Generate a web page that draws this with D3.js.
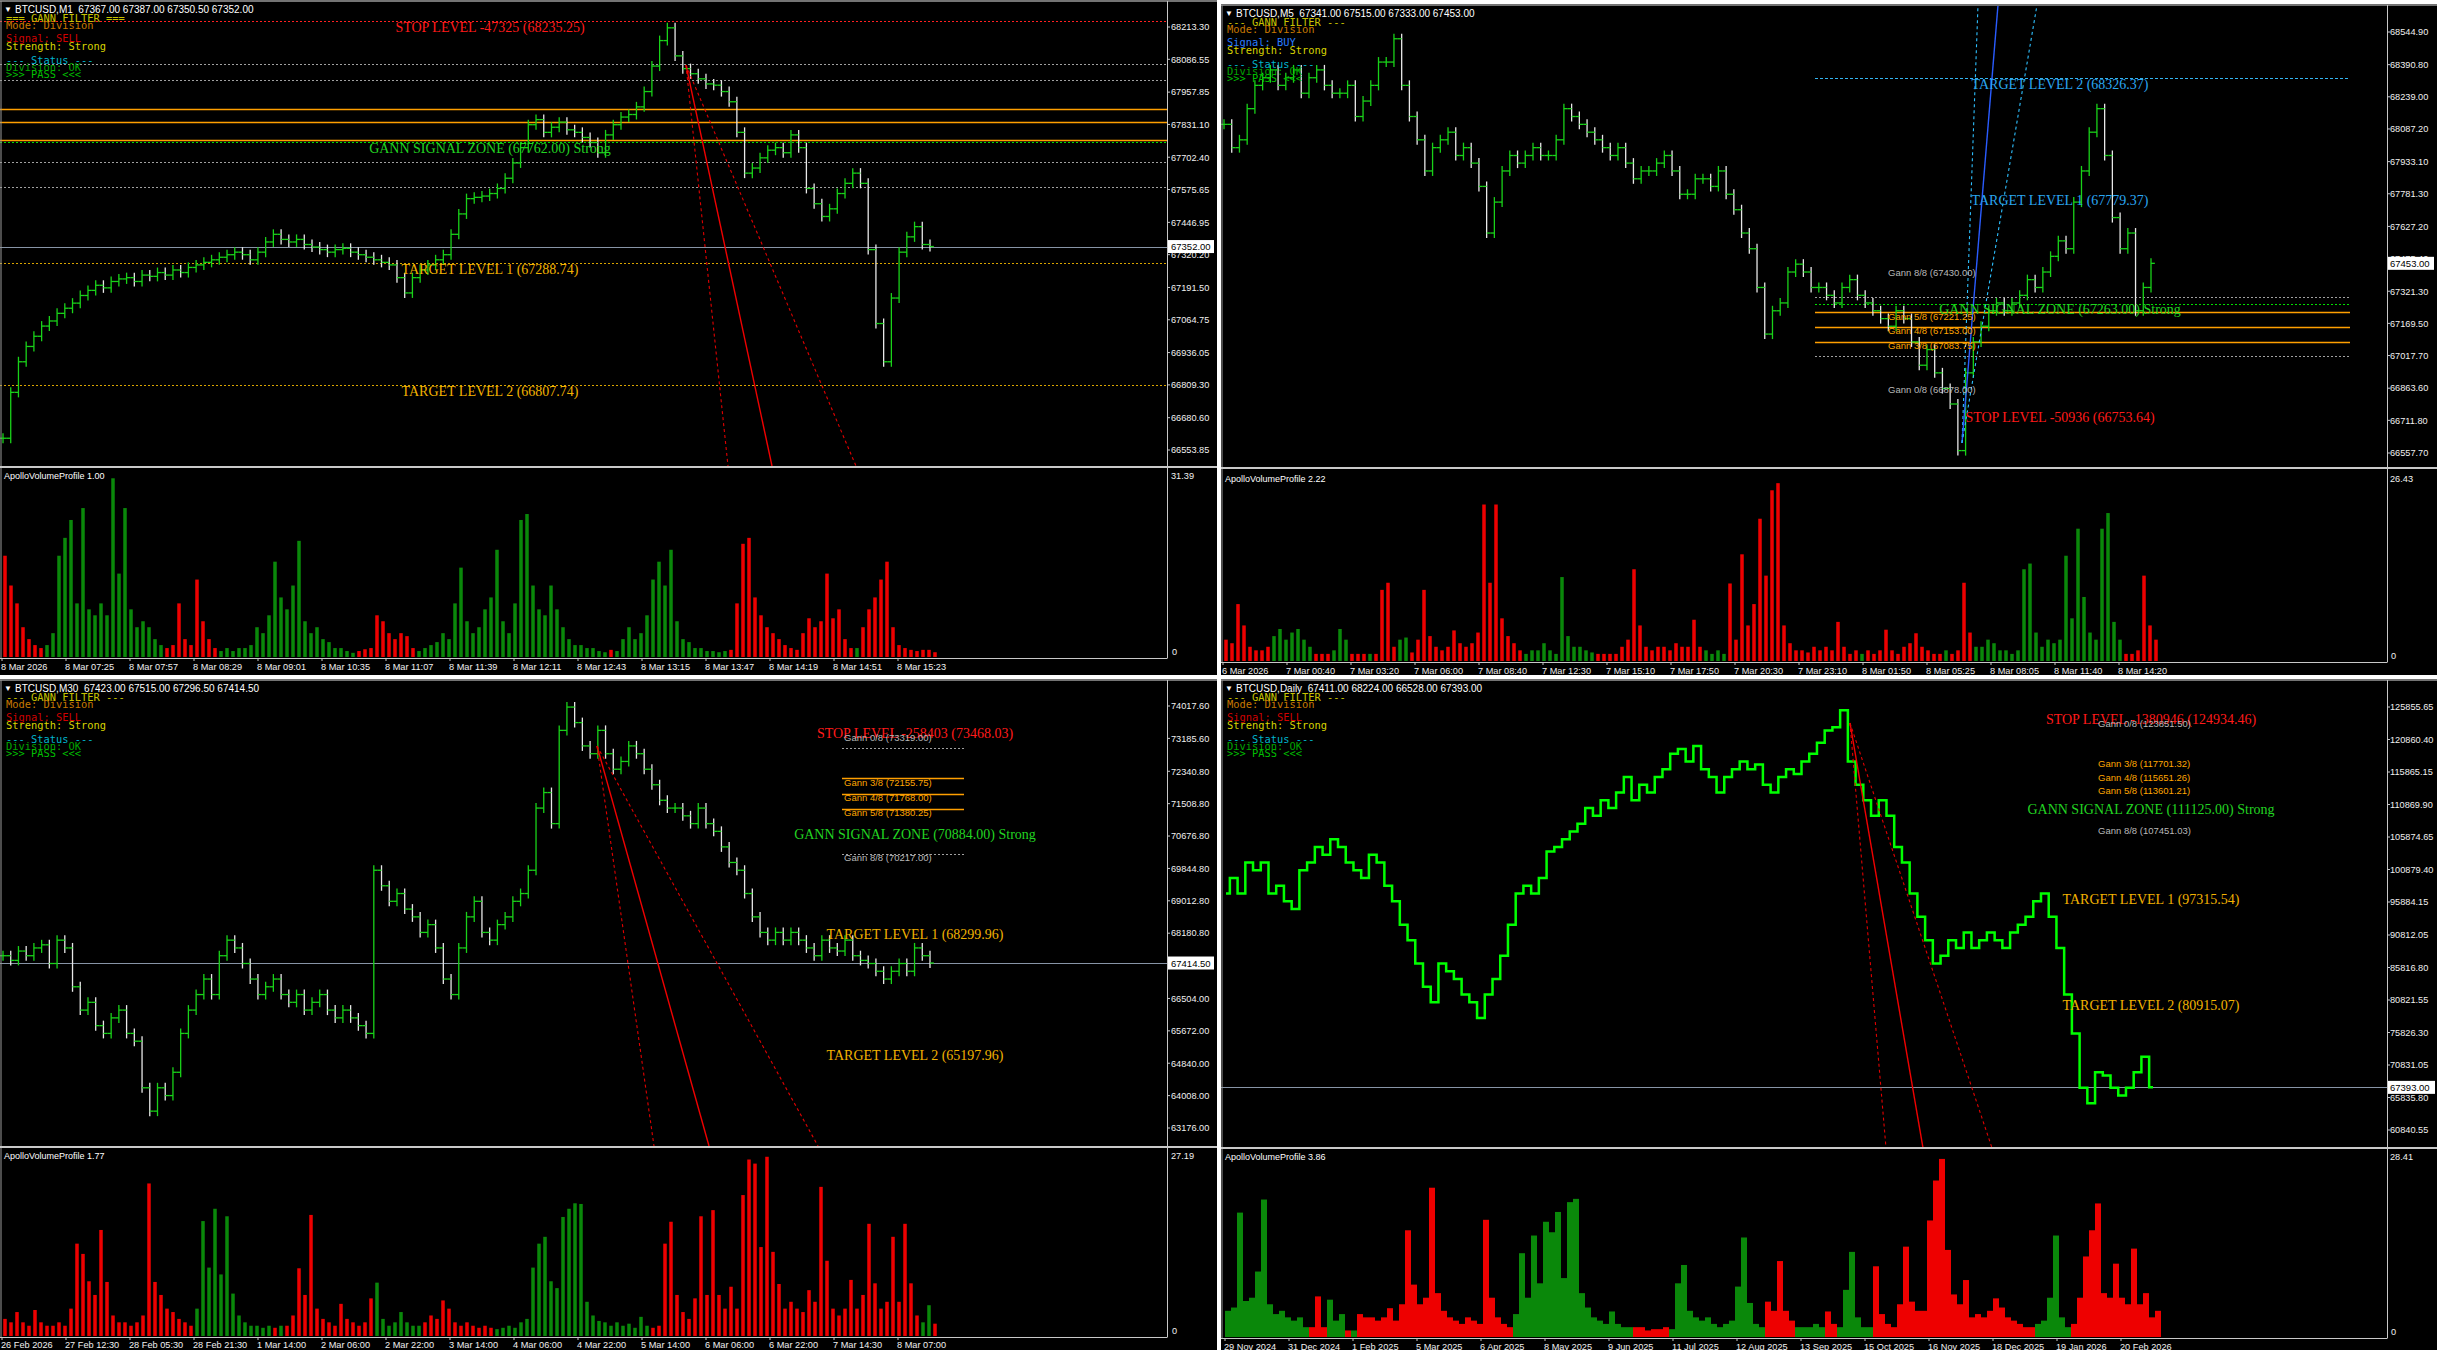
<!DOCTYPE html>
<html><head><meta charset="utf-8">
<script src="https://cdn.jsdelivr.net/npm/d3@7"></script>
<style>html,body{margin:0;padding:0;background:#fff;overflow:hidden}svg{display:block}</style>
</head><body><svg id="c" width="2437" height="1350"></svg>
<script>
// ---------------- DATA ----------------
const barCount = 465;
const timeTickBars = [0,32,64,96,128,160,192,224,256,288,320,352,384,416,448];

// Top-left: M1
const tlTitle = "BTCUSD,M1  67367.00 67387.00 67350.50 67352.00";
const tlClose = [66600,66780,66900,66960,67000,67040,67060,67090,67110,67130,
 67160,67180,67200,67190,67215,67225,67230,67215,67240,67235,
 67250,67240,67260,67250,67270,67280,67290,67300,67310,67320,
 67330,67320,67300,67330,67370,67400,67380,67370,67380,67360,
 67350,67340,67330,67340,67345,67330,67320,67310,67300,67290,
 67280,67230,67170,67230,67260,67280,67300,67320,67400,67480,
 67540,67545,67550,67560,67580,67620,67680,67740,67830,67850,
 67800,67820,67840,67810,67800,67780,67760,67720,67790,67830,
 67860,67870,67900,67960,68060,68160,68210,68100,68050,68030,
 68010,67990,67985,67960,67920,67800,67640,67660,67700,67730,
 67740,67720,67790,67740,67580,67520,67470,67500,67560,67600,
 67640,67600,67340,67050,66900,67150,67330,67390,67430,67360,
 67352];
const tlVolume = [17,12,9,5,3,2,1.5,
 2,4,17,20,23,9,25,8,7,9,7,30,14,25,8,5,6,5,3,2,
 1.5,2,9,3,2,13,6,3,1.5,
 1,1.5,1,1.5,1.5,2,5,4,7,16,10,8,12,19.5,6,4,5,3,2.5,1.5,1.5,1,
 0.7,
 1,1.3,1.5,7,6,4,3,4,3.5,1.5,
 1,
 1.5,2,2.5,4,3,9,15,6,4,5,8,10,18,6,4,9,23,24,12,8,7,12,8,5,3,2,2,1.5,1.5,1,0.8,
 1.2,
 1,3,5,3,4,7,13,16,12,18,6,3,2.5,1.5,1.5,1,1,0.8,1,
 1.2,9,19,20,10,7,5,4,3,2,1.5,1.2,
 4,6.5,5,6,14,6.5,8,3,1.5,
 1.5,
 5,8,10,13,16,5,2,1.5,1.2,1,1.2,1.2,0.8];
const tlVolRuns = [["r",7],["g",20],["r",9],["g",23],["r",10],["g",32],["r",1],["g",19],["r",21],["g",1],["r",13]];
const tlTimeLabels = ["8 Mar 2026","8 Mar 07:25","8 Mar 07:57","8 Mar 08:29","8 Mar 09:01","8 Mar 10:35","8 Mar 11:07","8 Mar 11:39","8 Mar 12:11","8 Mar 12:43","8 Mar 13:15","8 Mar 13:47","8 Mar 14:19","8 Mar 14:51","8 Mar 15:23"];
const tlPriceTicks = [68213.30,68086.55,67957.85,67831.10,67702.40,67575.65,67446.95,67320.20,67191.50,67064.75,66936.05,66809.30,66680.60,66553.85];
const tlVolMax = 31.39;
const tlVolName = "ApolloVolumeProfile 1.00";
const tlCurrent = 67352.00;
const tlLevelPrices = [68235.25,68068.2,68005.4,67891.6,67840.6,67770,67762,67683.7,67585.6,67352,67288.74,66807.74];
const tlLevelKinds = ["stop","gray","gray","orange","orange","orange","zone","gray","gray","current","target","target"];
const tlLevelFrom = [null,null,null,null,null,null,null,null,null,null,null,null];
const tlLevelTo = [null,null,null,null,null,null,null,null,null,null,null,null];
const tlLabelTexts = ["STOP LEVEL -47325 (68235.25)","GANN SIGNAL ZONE (67762.00) Strong","TARGET LEVEL 1 (67288.74)","TARGET LEVEL 2 (66807.74)"];
const tlLabelPrices = [68235.25,67762,67288.74,66807.74];
const tlLabelBars = [244,244,244,244];
const tlLabelKinds = ["stop","zone","target","target"];
const tlFans = [[342,68064,363,66491],[342,68064,385,66491],[342,68064,427,66491]];
const tlFanKinds = ["dotR","solidR","dotR"];
const tlInfo = ["=== GANN FILTER ===","Mode: Division","Signal: SELL","Strength: Strong","--- Status ---","Division: OK",">>> PASS <<<"];
const tlInfoKinds = ["head","mode","sell","strength","status","ok","pass"];

// Top-right: M5
const trTitle = "BTCUSD,M5  67341.00 67515.00 67333.00 67453.00";
const trClose = [68109,67999,68036,68183,68293,68329,68366,68293,68329,68366,
 68256,68329,68366,68293,68256,68256,68293,68146,68219,68293,
 68403,68403,68513,68293,68146,68036,67889,67999,68036,68072,
 67962,67999,67926,67816,67596,67742,67889,67962,67926,67962,
 67999,67962,67962,68036,68183,68146,68109,68072,68036,67999,
 67962,67999,67926,67852,67889,67889,67926,67962,67889,67779,
 67779,67852,67852,67816,67889,67779,67706,67596,67522,67339,
 67119,67229,67266,67412,67449,67412,67339,67339,67302,67266,
 67339,67376,67302,67266,67229,67192,67156,67229,67192,67082,
 66972,67046,66936,66862,66789,66569,66936,67082,67156,67229,
 67266,67229,67266,67302,67376,67339,67412,67486,67559,67522,
 67742,67889,68072,68183,67962,67669,67522,67596,67229,67339,
 67453];
const trVolume = [3,2.5,8,5,2,1.5,1.5,2,
 3.5,4.5,3,4,4.5,3,2,
 1,1,1,
 1.5,4.5,3,
 1,1,1,
 1,
 1,10,11,2,
 3,3.3,
 1.2,3,10,3.5,2,1.5,2,4.3,2.5,2,2.5,4,22,11,22,6,3.5,2.5,1.5,
 1,1.5,1.5,2.5,1.5,1,11.8,3.5,2,2,1.5,1.2,
 1,1,1,1,2,3,12.9,5,2,1.5,2,2,1.5,2.5,2,2,5.8,2,
 1.5,1,1.5,1,
 10.9,3,15,5,8,20,12,24,25,5,2.5,1.5,1.5,1.2,2,1.5,2,1.5,5.5,2,1,1.5,
 1,
 1.5,1,1.5,4.4,1.5,1,2,2.5,3.9,2,1.5,1,1,
 1.5,
 1,1.5,11,4,
 2,2,3,2.5,1.5,1.5,1,1.5,12.9,13.7,4,2,3,2.5,3,14.8,6,18.6,9,4,3,18.6,20.8,5.5,3,
 1,1,1.5,12,5,3];
const trVolRuns = [["r",8],["g",7],["r",3],["g",3],["r",3],["g",1],["r",4],["g",2],["r",19],["g",12],["r",18],["g",4],["r",22],["g",1],["r",13],["g",1],["r",4],["g",25],["r",6]];
const trTimeLabels = ["6 Mar 2026","7 Mar 00:40","7 Mar 03:20","7 Mar 06:00","7 Mar 08:40","7 Mar 12:30","7 Mar 15:10","7 Mar 17:50","7 Mar 20:30","7 Mar 23:10","8 Mar 01:50","8 Mar 05:25","8 Mar 08:05","8 Mar 11:40","8 Mar 14:20"];
const trPriceTicks = [68544.90,68390.80,68239.00,68087.20,67933.10,67781.30,67627.20,67475.40,67321.30,67169.50,67017.70,66863.60,66711.80,66557.70];
const trVolMax = 26.43;
const trVolName = "ApolloVolumeProfile 2.22";
const trCurrent = 67453.00;
const trLevelPrices = [68326.37,67294,67263,67221.25,67153,67083.75,67016];
const trLevelKinds = ["cyan","gray","zone","orange","orange","orange","gray"];
const trLevelFrom = [296,296,296,296,296,296,296];
const trLevelTo = [563.5,563.5,563.5,563.5,563.5,563.5,563.5];
const trLabelTexts = ["TARGET LEVEL 2 (68326.37)","TARGET LEVEL 1 (67779.37)","Gann 8/8 (67430.00)","Gann 5/8 (67221.25)","Gann 4/8 (67153.00)","Gann 3/8 (67083.75)","Gann 0/8 (66878.00)","GANN SIGNAL ZONE (67263.00) Strong","STOP LEVEL -50936 (66753.64)"];
const trLabelPrices = [68326.37,67779.37,67430,67221.25,67153,67083.75,66878,67263,66753.64];
const trLabelBars = [418.5,418.5,332.5,332.5,332.5,332.5,332.5,418.5,418.5];
const trLabelKinds = ["targetBuy","targetBuy","gannGray","gannOrange","gannOrange","gannOrange","gannGray","zone","stop"];
const trFans = [[369.5,66605,377.5,68672],[369.5,66605,387.5,68672],[369.5,66605,407,68672]];
const trFanKinds = ["dotB","solidB","dotB"];
const trInfo = ["--- GANN FILTER ---","Mode: Division","Signal: BUY","Strength: Strong","--- Status ---","Division: OK",">>> PASS <<<"];
const trInfoKinds = ["head","mode","buy","strength","status","ok","pass"];

// Bottom-left: M30
const blTitle = "BTCUSD,M30  67423.00 67515.00 67296.50 67414.50";
const blClose = [67602,67482,67722,67602,67802,67882,67402,68002,67802,66804,
 66205,66405,65806,65606,66005,66205,65606,65406,64209,63609,
 64209,64009,64608,65606,66205,66604,67003,66604,67602,68002,
 67802,67402,67003,66604,66804,67003,66604,66405,66604,66205,
 66405,66604,66205,66005,66205,66005,65806,65606,69798,69399,
 69000,69200,68800,68600,68201,68401,67802,67003,66604,67802,
 68600,69000,68201,68002,68401,68600,69000,69200,69798,71395,
 71794,70996,73391,73990,73591,72992,72792,73391,72792,72393,
 72593,72992,72792,72393,71994,71595,71395,71395,71196,70996,
 71395,70996,70797,70398,69998,69798,69200,68600,68201,68002,
 68201,68002,68201,68002,67802,67602,68002,67802,67722,68002,
 67602,67482,67402,67203,67003,67203,67402,67203,67802,67602,
 67414.5];
const blVolume = [2.5,2,3.5,2,1.5,3.8,2,1.5,1.5,2,1.5,4,13.5,12,8,6,15.5,7.9,3,2,2,1.5,2,3,22.3,7.9,6,4,3.5,2.5,2,1.5,
 4,16.8,10,18.6,9,17.5,6.2,3,2,1.5,1.5,1.2,1.5,
 1.2,
 1.5,
 1.5,3,9.9,6,17.7,4,2.5,2,1.5,4.7,2.5,2,1.5,2,5.5,
 7.8,2.5,1.5,2,3.5,2,1.5,1.5,
 2,3,2.5,5.2,4,2,1.5,2,1.5,1.2,1.5,1.2,
 1,1.2,1.5,1.2,2,2.5,10,13.5,14.5,8,7,17.4,18.6,19.4,19.3,5,3,2.2,2,1.5,2,1.5,1.8,1.2,2.8,1.5,
 1.2,1.5,13.5,16.7,6,3.5,2.5,5.5,17.5,6,18.4,6,4,7.2,4,20.6,25.8,25.2,13,26.2,12.3,7.6,4,5,4,3.5,6.7,5,21.8,11,4,3,4,8.2,4,6,16.4,7.7,4,5,14.5,5,16.4,7.7,3,
 2,4.5,
 1.8];
const blVolRuns = [["r",32],["g",13],["r",1],["g",1],["r",15],["g",8],["r",12],["g",26],["r",45],["g",2],["r",1]];
const blTimeLabels = ["26 Feb 2026","27 Feb 12:30","28 Feb 05:30","28 Feb 21:30","1 Mar 14:00","2 Mar 06:00","2 Mar 22:00","3 Mar 14:00","4 Mar 06:00","4 Mar 22:00","5 Mar 14:00","6 Mar 06:00","6 Mar 22:00","7 Mar 14:30","8 Mar 07:00"];
const blPriceTicks = [74017.60,73185.60,72340.80,71508.80,70676.80,69844.80,69012.80,68180.80,67348.80,66504.00,65672.00,64840.00,64008.00,63176.00];
const blVolMax = 27.19;
const blVolName = "ApolloVolumeProfile 1.77";
const blCurrent = 67414.50;
const blLevelPrices = [67414.5,72931.25,72155.75,71768,71380.25,70217];
const blLevelKinds = ["current","gray","orange","orange","orange","gray"];
const blLevelFrom = [null,420,420,420,420,420];
const blLevelTo = [null,481,481,481,481,481];
const blLabelTexts = ["STOP LEVEL -258403 (73468.03)","Gann 0/8 (73319.00)","Gann 3/8 (72155.75)","Gann 4/8 (71768.00)","Gann 5/8 (71380.25)","GANN SIGNAL ZONE (70884.00) Strong","Gann 8/8 (70217.00)","TARGET LEVEL 1 (68299.96)","TARGET LEVEL 2 (65197.96)"];
const blLabelPrices = [73468.03,73319,72155.75,71768,71380.25,70884,70217,68299.96,65197.96];
const blLabelBars = [456.5,421,421,421,421,456.5,421,456.5,456.5];
const blLabelKinds = ["stop","gannGray","gannOrange","gannOrange","gannOrange","zone","gannGray","target","target"];
const blFans = [[297.5,72990,326,62713],[297.5,72990,353.5,62713],[297.5,72990,408,62713]];
const blFanKinds = ["dotR","solidR","dotR"];
const blInfo = ["--- GANN FILTER ---","Mode: Division","Signal: SELL","Strength: Strong","--- Status ---","Division: OK",">>> PASS <<<"];
const blInfoKinds = ["head","mode","sell","strength","status","ok","pass"];

// Bottom-right: Daily
const brTitle = "BTCUSD,Daily  67411.00 68224.00 66528.00 67393.00";
const brClose = [97181,99570,97181,101958,100764,101958,97181,98376,95987,94793,
 100764,101958,104347,103153,105541,104347,101958,100764,99570,103153,
 101958,98376,95987,92404,90016,86433,82850,80462,86433,85239,
 84045,81656,80462,78073,81656,84045,87627,92404,97181,98376,
 97181,99570,103630,104347,105541,106736,107930,110318,109124,111513,
 110318,112707,115096,111513,113901,112707,115096,116290,118678,119395,
 117484,119873,116290,115096,112707,115096,116290,117484,116290,117006,
 113901,112707,115096,116290,115573,117484,118678,120350,122261,122739,
 125372,117484,113901,111513,109124,111513,109124,104347,101958,97181,
 93599,90016,86433,87627,90016,88822,91210,88822,90016,91210,
 90016,88822,91210,92404,93599,95987,97181,93599,88822,81656,
 75684,67325,64936,69713,69235,67325,66130,67325,69713,72102,
 67393];
const brVolume = [4,4.5,19,5.5,6,10,21,5,3.5,4,3,2.5,3,1.5,
 1.5,6.2,1.5,
 5.7,2.5,3.5,
 1,
 1,
 3.5,3,3,2.5,3,4.4,2.5,5,16.3,8,5,6,22.8,6.7,4,3,2.5,2,3,2.5,2,17.9,6,3,2,1.5,
 3.5,12.8,6,15.5,8.2,17.6,16,19.1,9,20.6,21.1,6.7,4.5,3,2.5,2,3.9,2,1.5,1.5,
 1.5,1.5,1,1.2,1.2,1.5,
 1.2,8.2,11,4,3,2.5,3,2,1.5,2,2.5,7.7,15.2,5.2,2,1.5,
 5.4,4,11.6,4,2.5,
 1.5,1.5,1.5,2,1.5,
 3.9,2,
 1.5,7.2,13,3,1.5,1.5,
 10.8,3.5,2,1.5,5,13.8,5.4,4,4,17.8,23.9,27.2,13.3,6.5,5,8.7,3,3.5,3,4,5.9,4.5,3,2.5,2,1.5,1.5,
 2,2.5,6,15.5,3,1.5,
 2,6,12.3,16.3,20.4,6.7,6,11.2,6,5,13.5,5,6.7,3,4];
const brVolRuns = [["g",14],["r",3],["g",3],["r",1],["g",1],["r",26],["g",20],["r",6],["g",16],["r",5],["g",5],["r",2],["g",6],["r",27],["g",6],["r",15]];
const brTimeLabels = ["29 Nov 2024","31 Dec 2024","1 Feb 2025","5 Mar 2025","6 Apr 2025","8 May 2025","9 Jun 2025","11 Jul 2025","12 Aug 2025","13 Sep 2025","15 Oct 2025","16 Nov 2025","18 Dec 2025","19 Jan 2026","20 Feb 2026"];
const brPriceTicks = [125855.65,120860.40,115865.15,110869.90,105874.65,100879.40,95884.15,90812.05,85816.80,80821.55,75826.30,70831.05,65835.80,60840.55];
const brVolMax = 28.41;
const brVolName = "ApolloVolumeProfile 3.86";
const brCurrent = 67393.00;
const brLevelPrices = [67393];
const brLevelKinds = ["current"];
const brLevelFrom = [null];
const brLevelTo = [null];
const brLabelTexts = ["STOP LEVEL -1380946 (124934.46)","Gann 0/8 (123851.50)","Gann 3/8 (117701.32)","Gann 4/8 (115651.26)","Gann 5/8 (113601.21)","GANN SIGNAL ZONE (111125.00) Strong","Gann 8/8 (107451.03)","TARGET LEVEL 1 (97315.54)","TARGET LEVEL 2 (80915.07)"];
const brLabelPrices = [124934.46,123851.5,117701.32,115651.26,113601.21,111125,107451.03,97315.54,80915.07];
const brLabelBars = [463,436.5,436.5,436.5,436.5,463,436.5,463,463];
const brLabelKinds = ["stop","gannGray","gannOrange","gannOrange","gannOrange","zone","gannGray","target","target"];
const brFans = [[312.5,123396,330.5,58074],[312.5,123396,349,58074],[312.5,123396,383.5,58074]];
const brFanKinds = ["dotR","solidR","dotR"];
const brInfo = ["--- GANN FILTER ---","Mode: Division","Signal: SELL","Strength: Strong","--- Status ---","Division: OK",">>> PASS <<<"];
const brInfoKinds = ["head","mode","sell","strength","status","ok","pass"];

// ---------------- STYLE / LAYOUT ----------------
const SANS = "'Liberation Sans', Arial, sans-serif";
const SERIF = "'Liberation Serif', 'Times New Roman', serif";
const MONO = "'DejaVu Sans Mono', 'Liberation Mono', monospace";
const volColor = {r:"#ee0000", g:"#0a880a"};
const levelStyle = {
  stop:{stroke:"#ff2020",dash:"2,2",w:1},
  gray:{stroke:"#a0a0a0",dash:"2,2",w:1},
  orange:{stroke:"#ff9f00",dash:null,w:1.4},
  zone:{stroke:"#00e000",dash:"2,2",w:1},
  current:{stroke:"#8794a6",dash:null,w:1},
  target:{stroke:"#d9a400",dash:"2,2",w:1},
  cyan:{stroke:"#33b4f0",dash:"3,2",w:1.2}
};
const labelStyle = {
  stop:{fill:"#ff1a1a",size:14,font:SERIF,anchor:"middle"},
  zone:{fill:"#22d422",size:14,font:SERIF,anchor:"middle"},
  target:{fill:"#f2b200",size:14,font:SERIF,anchor:"middle"},
  targetBuy:{fill:"#2aa6f0",size:14,font:SERIF,anchor:"middle"},
  gannGray:{fill:"#b8b8b8",size:9.5,font:SANS,anchor:"start"},
  gannOrange:{fill:"#ffa500",size:9.5,font:SANS,anchor:"start"}
};
const fanStyle = {
  dotR:{stroke:"#e00000",dash:"3,3",w:1.1},
  solidR:{stroke:"#f00000",dash:null,w:1.4},
  dotB:{stroke:"#2ec0ff",dash:"3,3",w:1.1},
  solidB:{stroke:"#2a5cff",dash:null,w:1.4}
};
const infoColor = {head:"#c8c400",mode:"#c87800",sell:"#d00000",buy:"#2a7dff",strength:"#d8d400",status:"#00b4cc",ok:"#00a400",pass:"#00bf00"};
const infoOffsets = [18,25,38,46,60,67,74];

const panels = [
 {title:tlTitle,close:tlClose,vol:tlVolume,runs:tlVolRuns,times:tlTimeLabels,ticks:tlPriceTicks,volMax:tlVolMax,volName:tlVolName,current:tlCurrent,
  lv:[tlLevelPrices,tlLevelKinds,tlLevelFrom,tlLevelTo],lb:[tlLabelTexts,tlLabelPrices,tlLabelBars,tlLabelKinds],fans:tlFans,fanKinds:tlFanKinds,info:tlInfo,infoKinds:tlInfoKinds,mode:"bars",
  L:{left:0,top:0,width:1217,height:675,x0:2,axisX:1167,sepY:467,volTop:470,volBase:657,axisBottom:658,timeY:666,tickY:[27,450],labelX:1171,boxW:46}},
 {title:trTitle,close:trClose,vol:trVolume,runs:trVolRuns,times:trTimeLabels,ticks:trPriceTicks,volMax:trVolMax,volName:trVolName,current:trCurrent,
  lv:[trLevelPrices,trLevelKinds,trLevelFrom,trLevelTo],lb:[trLabelTexts,trLabelPrices,trLabelBars,trLabelKinds],fans:trFans,fanKinds:trFanKinds,info:trInfo,infoKinds:trInfoKinds,mode:"bars",
  L:{left:1221,top:4,width:1216,height:671,x0:1223,axisX:2387,sepY:468,volTop:473,volBase:661,axisBottom:662,timeY:670,tickY:[32,453],labelX:2390,boxW:46}},
 {title:blTitle,close:blClose,vol:blVolume,runs:blVolRuns,times:blTimeLabels,ticks:blPriceTicks,volMax:blVolMax,volName:blVolName,current:blCurrent,
  lv:[blLevelPrices,blLevelKinds,blLevelFrom,blLevelTo],lb:[blLabelTexts,blLabelPrices,blLabelBars,blLabelKinds],fans:blFans,fanKinds:blFanKinds,info:blInfo,infoKinds:blInfoKinds,mode:"bars",
  L:{left:0,top:679,width:1217,height:671,x0:2,axisX:1167,sepY:1147,volTop:1150,volBase:1336,axisBottom:1337,timeY:1344,tickY:[706,1128],labelX:1171,boxW:46}},
 {title:brTitle,close:brClose,vol:brVolume,runs:brVolRuns,times:brTimeLabels,ticks:brPriceTicks,volMax:brVolMax,volName:brVolName,current:brCurrent,
  lv:[brLevelPrices,brLevelKinds,brLevelFrom,brLevelTo],lb:[brLabelTexts,brLabelPrices,brLabelBars,brLabelKinds],fans:brFans,fanKinds:brFanKinds,info:brInfo,infoKinds:brInfoKinds,mode:"line",
  L:{left:1221,top:679,width:1216,height:671,x0:1225,axisX:2387,sepY:1148,volTop:1151,volBase:1337,axisBottom:1338,timeY:1346,tickY:[707,1130],labelX:2390,boxW:47}}
];

// ---------------- DRAW ----------------
const svg = d3.select("#c");
svg.append("rect").attr("width",2437).attr("height",1350).attr("fill","#ffffff");
const defs = svg.append("defs");

panels.forEach((P, pi) => {
  const L = P.L;
  const g = svg.append("g");
  g.append("rect").attr("x",L.left).attr("y",L.top).attr("width",L.width).attr("height",L.height).attr("fill","#000");

  const x = d3.scaleLinear().domain([0, barCount]).range([L.x0, L.x0 + 2*barCount]);
  const nT = P.ticks.length;
  const y = d3.scaleLinear().domain([P.ticks[nT-1], P.ticks[0]]).range([L.tickY[1], L.tickY[0]]);
  const yv = d3.scaleLinear().domain([0, P.volMax]).range([L.volBase, L.volTop]);
  const xp = d3.scaleLinear().domain([0, P.close.length-1]).range([x(0.5), x(barCount-1)]);

  const clipId = "clip"+pi;
  defs.append("clipPath").attr("id",clipId).append("rect")
    .attr("x",L.left).attr("y",L.top+2).attr("width",L.axisX-L.left).attr("height",L.sepY-L.top-3);
  const pg = g.append("g").attr("clip-path","url(#"+clipId+")");

  // level lines
  const [lp, lk, lf, lt] = P.lv;
  lp.forEach((p,i) => {
    const st = levelStyle[lk[i]];
    const x1 = lf[i]==null ? L.left : x(lf[i]);
    const x2 = lt[i]==null ? L.axisX : x(lt[i]);
    pg.append("line").attr("x1",x1).attr("x2",x2).attr("y1",Math.round(y(p))+0.5).attr("y2",Math.round(y(p))+0.5)
      .attr("stroke",st.stroke).attr("stroke-width",st.w).attr("stroke-dasharray",st.dash);
  });

  // price series
  const step = xp(1)-xp(0);
  if (P.mode === "bars") {
    P.close.forEach((c,i) => {
      const prev = i>0 ? P.close[i-1] : c;
      const cx = xp(i);
      const yt = y(Math.max(prev,c)) - 5, yb = y(Math.min(prev,c)) + 5;
      const col = c < prev ? "#e8e8e8" : "#19d219";
      pg.append("line").attr("x1",cx).attr("x2",cx).attr("y1",yt).attr("y2",yb).attr("stroke",col).attr("stroke-width",1.3);
      pg.append("line").attr("x1",cx-step/2).attr("x2",cx).attr("y1",y(prev)).attr("y2",y(prev)).attr("stroke","#19d219").attr("stroke-width",1.3);
      pg.append("line").attr("x1",cx).attr("x2",cx+step/2).attr("y1",y(c)).attr("y2",y(c)).attr("stroke","#19d219").attr("stroke-width",1.3);
    });
  } else {
    pg.append("path").datum(P.close)
      .attr("d", d3.line().x((d,i)=>xp(i)).y(d=>y(d)).curve(d3.curveStep))
      .attr("fill","none").attr("stroke","#00ff00").attr("stroke-width",2.5);
  }

  // fan lines
  P.fans.forEach((f,i) => {
    const st = fanStyle[P.fanKinds[i]];
    pg.append("line").attr("x1",x(f[0])).attr("y1",y(f[1])).attr("x2",x(f[2])).attr("y2",y(f[3]))
      .attr("stroke",st.stroke).attr("stroke-width",st.w).attr("stroke-dasharray",st.dash);
  });

  // labels
  const [tt, tp, tb, tk] = P.lb;
  tt.forEach((t,i) => {
    const st = labelStyle[tk[i]];
    pg.append("text").attr("x",x(tb[i])).attr("y",y(tp[i]) + st.size*0.78)
      .attr("text-anchor",st.anchor).attr("font-family",st.font).attr("font-size",st.size)
      .attr("fill",st.fill).text(t);
  });

  // frame
  const fc = "#c8c8c8";
  g.append("line").attr("x1",L.left).attr("x2",L.left+L.width).attr("y1",L.top+1).attr("y2",L.top+1).attr("stroke","#9a9a9a").attr("stroke-width",1.5);
  g.append("line").attr("x1",L.left+1).attr("x2",L.left+1).attr("y1",L.top+1).attr("y2",L.axisBottom).attr("stroke","#9a9a9a").attr("stroke-width",1);
  g.append("line").attr("x1",L.axisX+0.5).attr("x2",L.axisX+0.5).attr("y1",L.top+1).attr("y2",L.axisBottom).attr("stroke",fc).attr("stroke-width",1);
  g.append("line").attr("x1",L.left).attr("x2",L.left+L.width).attr("y1",L.sepY).attr("y2",L.sepY).attr("stroke",fc).attr("stroke-width",2.2);
  g.append("line").attr("x1",L.left).attr("x2",L.axisX+0.5).attr("y1",L.axisBottom+0.5).attr("y2",L.axisBottom+0.5).attr("stroke",fc).attr("stroke-width",1.2);

  // price axis labels
  P.ticks.forEach(t => {
    const ty = y(t);
    g.append("line").attr("x1",L.axisX).attr("x2",L.axisX+3).attr("y1",ty).attr("y2",ty).attr("stroke",fc);
    g.append("text").attr("x",L.labelX).attr("y",ty+3.3).attr("font-family",SANS).attr("font-size",9.2).attr("fill","#f0f0f0").text(d3.format(".2f")(t));
  });
  // current price box
  const cy = y(P.current);
  g.append("rect").attr("x",L.axisX+1).attr("y",cy-6.5).attr("width",L.boxW).attr("height",13).attr("fill","#fff");
  g.append("text").attr("x",L.labelX).attr("y",cy+3.5).attr("font-family",SANS).attr("font-size",9.5).attr("fill","#000").text(d3.format(".2f")(P.current));

  // volume bars
  const colors = [];
  P.runs.forEach(([c,n]) => { for (let k=0;k<n;k++) colors.push(c); });
  const bw = P.mode === "line" ? 6 : 3.5;
  P.vol.forEach((v,i) => {
    const bx = x(3*i+1.5) - bw/2;
    g.append("rect").attr("x",bx).attr("y",yv(v)).attr("width",bw).attr("height",Math.max(0,L.volBase - yv(v)))
      .attr("fill",volColor[colors[i]]);
  });
  g.append("text").attr("x",L.left+4).attr("y",L.volTop+9).attr("font-family",SANS).attr("font-size",9).attr("fill","#fff").text(P.volName);
  g.append("text").attr("x",L.labelX).attr("y",L.volTop+9).attr("font-family",SANS).attr("font-size",9.2).attr("fill","#f0f0f0").text(d3.format(".2f")(P.volMax));
  g.append("text").attr("x",L.labelX+1).attr("y",L.volBase-2).attr("font-family",SANS).attr("font-size",9.2).attr("fill","#f0f0f0").text("0");

  // time axis
  P.times.forEach((t,i) => {
    const tx = x(timeTickBars[i]);
    g.append("line").attr("x1",tx).attr("x2",tx).attr("y1",L.axisBottom).attr("y2",L.axisBottom+3).attr("stroke",fc);
    g.append("text").attr("x",tx-1).attr("y",L.timeY+3.5).attr("font-family",SANS).attr("font-size",9.2).attr("fill","#f0f0f0").text(t);
  });

  // title
  g.append("text").attr("x",L.left+4).attr("y",L.top+12).attr("font-family",SANS).attr("font-size",8).attr("fill","#fff").text("\u25BC");
  g.append("text").attr("x",L.left+15).attr("y",L.top+12.5).attr("font-family",SANS).attr("font-size",10).attr("fill","#fff").attr("xml:space","preserve").text(P.title);

  // info block
  P.info.forEach((t,i) => {
    g.append("text").attr("x",L.left+6).attr("y",L.top+infoOffsets[i]+3.5).attr("font-family",MONO).attr("font-size",10.4)
      .attr("fill",infoColor[P.infoKinds[i]]).attr("xml:space","preserve").text(t);
  });
});
</script></body></html>
